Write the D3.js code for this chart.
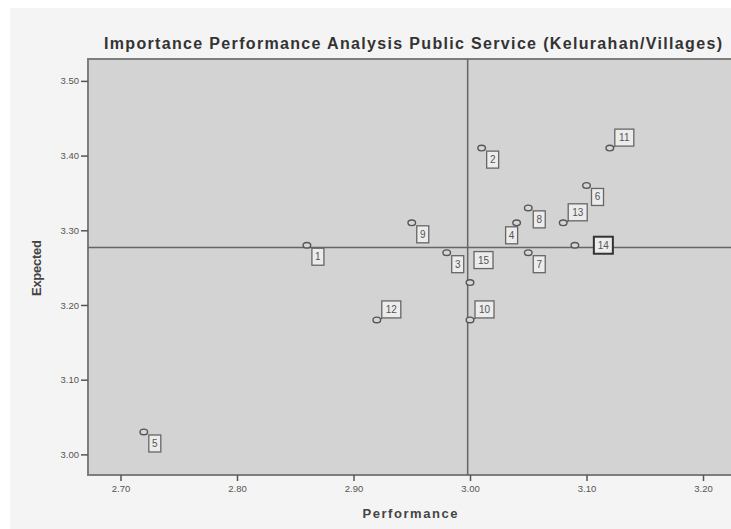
<!DOCTYPE html>
<html>
<head>
<meta charset="utf-8">
<script src="https://cdn.jsdelivr.net/npm/d3@7"></script>
<style>
  html, body { margin: 0; padding: 0; background: #ffffff; }
  svg { display: block; }
</style>
</head>
<body>
<svg id="chart" width="731" height="529"></svg>
<script>
// ---- data ----
const categories = ["1","2","3","4","5","6","7","8","9","10","11","12","13","14","15"];
const performance = [2.86, 3.01, 2.98, 3.04, 2.72, 3.10, 3.05, 3.05, 2.95, 3.00, 3.12, 2.92, 3.08, 3.09, 3.00];
const expected    = [3.28, 3.41, 3.27, 3.31, 3.03, 3.36, 3.27, 3.33, 3.31, 3.18, 3.41, 3.18, 3.31, 3.28, 3.23];
const xTicks = [2.70, 2.80, 2.90, 3.00, 3.10, 3.20];
const yTicks = [3.00, 3.10, 3.20, 3.30, 3.40, 3.50];
const refPerformance = 2.998;  // vertical reference line
const refExpected = 3.277;     // horizontal reference line
// label placement per category (dr = down-right, ur = up-right, dl = down-left, r = right, uh = up high)
const labelPlacement = {"1":"dr","2":"dr","3":"dr","4":"dl","5":"dr","6":"dr","7":"dr","8":"dr","9":"dr",
  "10":"ur","11":"ur","12":"ur","13":"ur","14":"r","15":"uh"};

const title = "Importance Performance Analysis Public Service (Kelurahan/Villages)";
const xTitle = "Performance";
const yTitle = "Expected";

// ---- layout ----
const svg = d3.select("#chart");
const W = 731, H = 529;
const plot = {left: 88, right: 734, top: 59, bottom: 475};

svg.append("rect").attr("x", 0).attr("y", 0).attr("width", W).attr("height", H).attr("fill", "#ffffff");
svg.append("rect").attr("x", 10).attr("y", 8).attr("width", W - 10).attr("height", H - 8).attr("fill", "#f4f4f4");

const x = d3.scaleLinear().domain([2.6721, 3.2266]).range([plot.left, plot.right]);
const y = d3.scaleLinear().domain([2.9724, 3.5293]).range([plot.bottom, plot.top]);

// plot background
svg.append("rect")
  .attr("x", plot.left).attr("y", plot.top)
  .attr("width", plot.right - plot.left).attr("height", plot.bottom - plot.top)
  .attr("fill", "#d3d3d3").attr("stroke", "#7d7d7d").attr("stroke-width", 2);

// axes
const fmt = d3.format(".2f");
const xAxis = svg.append("g").attr("transform", `translate(0,${plot.bottom})`)
  .call(d3.axisBottom(x).tickValues(xTicks).tickFormat(fmt).tickSize(6).tickPadding(4));
const yAxis = svg.append("g").attr("transform", `translate(${plot.left},0)`)
  .call(d3.axisLeft(y).tickValues(yTicks).tickFormat(fmt).tickSize(7).tickPadding(2));
[xAxis, yAxis].forEach(g => {
  g.select(".domain").remove();
  g.selectAll(".tick line").attr("stroke", "#555").attr("stroke-width", 1.5);
  g.selectAll(".tick text").attr("fill", "#555").attr("font-family", "Arial, 'Liberation Sans', sans-serif")
    .attr("font-size", 9.5);
});

// reference lines
svg.append("line")
  .attr("x1", x(refPerformance)).attr("x2", x(refPerformance))
  .attr("y1", plot.top).attr("y2", plot.bottom)
  .attr("stroke", "#666").attr("stroke-width", 1.5);
svg.append("line")
  .attr("x1", plot.left).attr("x2", plot.right)
  .attr("y1", y(refExpected)).attr("y2", y(refExpected))
  .attr("stroke", "#666").attr("stroke-width", 1.5);

// points
const data = categories.map((c, i) => ({c, px: performance[i], ex: expected[i]}));

const labelsG = svg.append("g");
data.forEach(d => {
  const cx = x(d.px), cy = y(d.ex);
  const place = labelPlacement[d.c];
  const bw = d.c.length > 1 ? 19 : 12, bh = 17;
  let bx, by;
  if (place === "dr") { bx = cx + 5; by = cy + 3; }
  else if (place === "ur") { bx = cx + 5; by = cy - 2 - bh; }
  else if (place === "dl") { bx = cx + 1 - bw; by = cy + 4; }
  else if (place === "r") { bx = cx + 19; by = cy - bh / 2; }
  else { bx = cx + 4; by = cy - 14 - bh; }
  if (place === "ur") {
    labelsG.append("path")
      .attr("d", `M${cx + 1},${cy - 1} Q${bx},${cy - 1} ${bx},${by + bh}`)
      .attr("fill", "none").attr("stroke", "#555").attr("stroke-width", 1.2);
  }
  labelsG.append("rect")
    .attr("x", bx).attr("y", by).attr("width", bw).attr("height", bh)
    .attr("fill", "#ececec")
    .attr("stroke", place === "r" ? "#333" : "#666")
    .attr("stroke-width", place === "r" ? 2 : 1.3);
  labelsG.append("text")
    .attr("x", bx + bw / 2).attr("y", by + bh / 2 + 3.5)
    .attr("text-anchor", "middle")
    .attr("font-family", "Arial, 'Liberation Sans', sans-serif")
    .attr("font-size", 10).attr("fill", "#555")
    .text(d.c);
});

svg.append("g").selectAll("ellipse").data(data).join("ellipse")
  .attr("cx", d => x(d.px)).attr("cy", d => y(d.ex))
  .attr("rx", 3.8).attr("ry", 2.8)
  .attr("fill", "#d6d6d6").attr("stroke", "#555").attr("stroke-width", 1.4);

// titles
svg.append("text")
  .attr("x", 413).attr("y", 49).attr("text-anchor", "middle")
  .attr("font-family", "Arial, 'Liberation Sans', sans-serif").attr("font-weight", "bold")
  .attr("font-size", 16).attr("fill", "#333")
  .attr("textLength", 618).attr("lengthAdjust", "spacing")
  .text(title);
svg.append("text")
  .attr("x", 410).attr("y", 518).attr("text-anchor", "middle")
  .attr("font-family", "Arial, 'Liberation Sans', sans-serif").attr("font-weight", "bold")
  .attr("font-size", 13).attr("fill", "#444")
  .attr("textLength", 95).attr("lengthAdjust", "spacing")
  .text(xTitle);
svg.append("text")
  .attr("transform", "translate(41,268) rotate(-90)").attr("text-anchor", "middle")
  .attr("font-family", "Arial, 'Liberation Sans', sans-serif").attr("font-weight", "bold")
  .attr("font-size", 13).attr("fill", "#444")
  .attr("textLength", 56).attr("lengthAdjust", "spacing")
  .text(yTitle);
</script>
</body>
</html>
